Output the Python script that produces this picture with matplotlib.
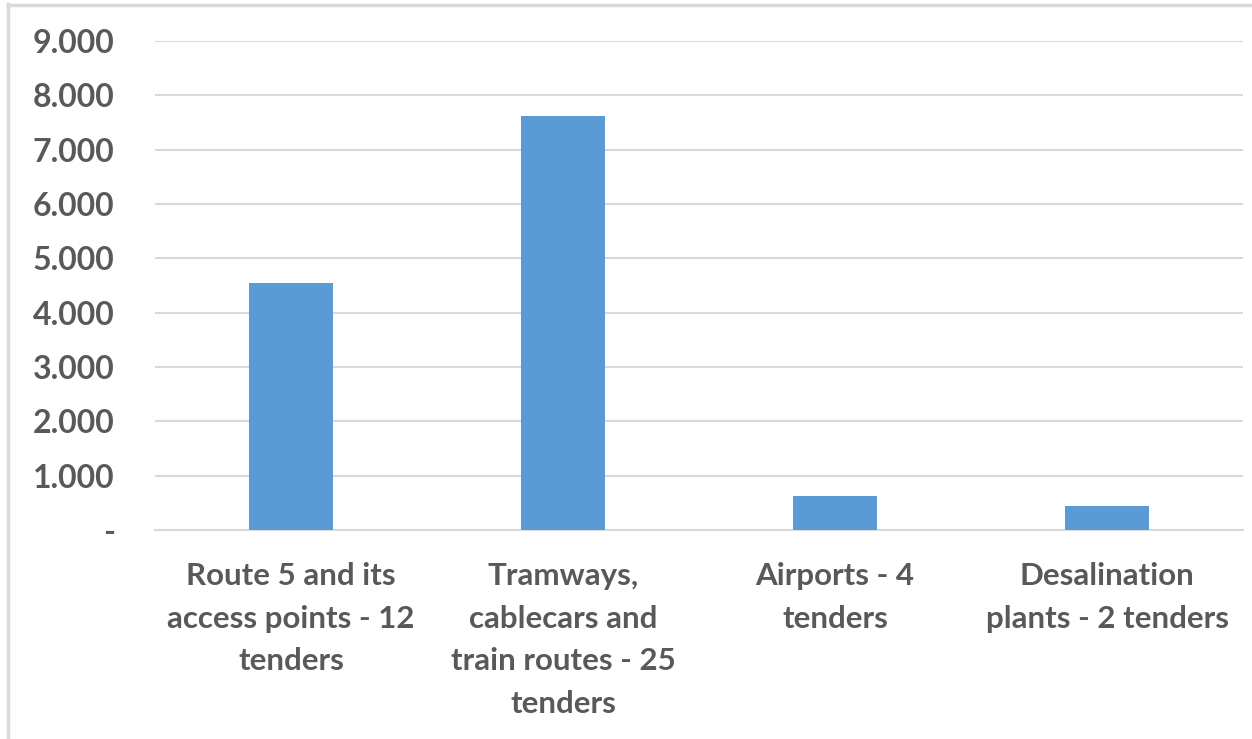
import matplotlib
matplotlib.use("Agg")
import matplotlib.pyplot as plt
from matplotlib.lines import Line2D
from matplotlib.ticker import FixedLocator, FuncFormatter

categories = [
    "Route 5 and its\naccess points - 12\ntenders",
    "Tramways,\ncablecars and\ntrain routes - 25\ntenders",
    "Airports - 4\ntenders",
    "Desalination\nplants - 2 tenders",
]
values = [4540, 7620, 620, 440]
yticks = [0, 1000, 2000, 3000, 4000, 5000, 6000, 7000, 8000, 9000]

plt.rcParams['font.family'] = ['Lato', 'DejaVu Sans']
text_color = "#595959"
grid_color = "#d9d9d9"
bar_color = "#5b9bd5"

fig = plt.figure(figsize=(12.52, 7.39), dpi=100)
ax = fig.add_axes([155/1252, 1-530/739, (1243-155)/1252, (530-41)/739])

x = list(range(len(categories)))
ax.bar(x, values, width=0.31, color=bar_color, zorder=3)
ax.set_xlim(-0.5, len(categories) - 0.5)
ax.set_ylim(0, 9000)

ax.yaxis.set_major_locator(FixedLocator(yticks))
def fmt(v, pos):
    if v == 0:
        return "-"
    return f"{int(v):,}".replace(",", ".")
ax.yaxis.set_major_formatter(FuncFormatter(fmt))
ax.grid(axis='y', color=grid_color, linewidth=1.5, zorder=0)
ax.set_axisbelow(True)

for s in ["top", "right", "left"]:
    ax.spines[s].set_visible(False)
ax.spines["bottom"].set_color(grid_color)
ax.spines["bottom"].set_linewidth(1.5)

ax.set_xticks(x)
ax.set_xticklabels(categories, fontsize=22.5, fontweight='bold', color=text_color,
                   linespacing=1.64)
ax.tick_params(axis='x', length=0, pad=23)
ax.tick_params(axis='y', length=0, pad=29, labelsize=23, labelcolor=text_color)
for lab in ax.get_yticklabels():
    lab.set_fontweight('bold')

# screenshot frame
fig.add_artist(Line2D([8/1252, 8/1252], [0, 1-4/739], color="#d9d9d9", linewidth=2.5,
                      transform=fig.transFigure))
fig.add_artist(Line2D([8/1252, 1], [1-5/739, 1-5/739], color="#d9d9d9", linewidth=2.5,
                      transform=fig.transFigure))

fig.savefig("out.png", dpi=100)
